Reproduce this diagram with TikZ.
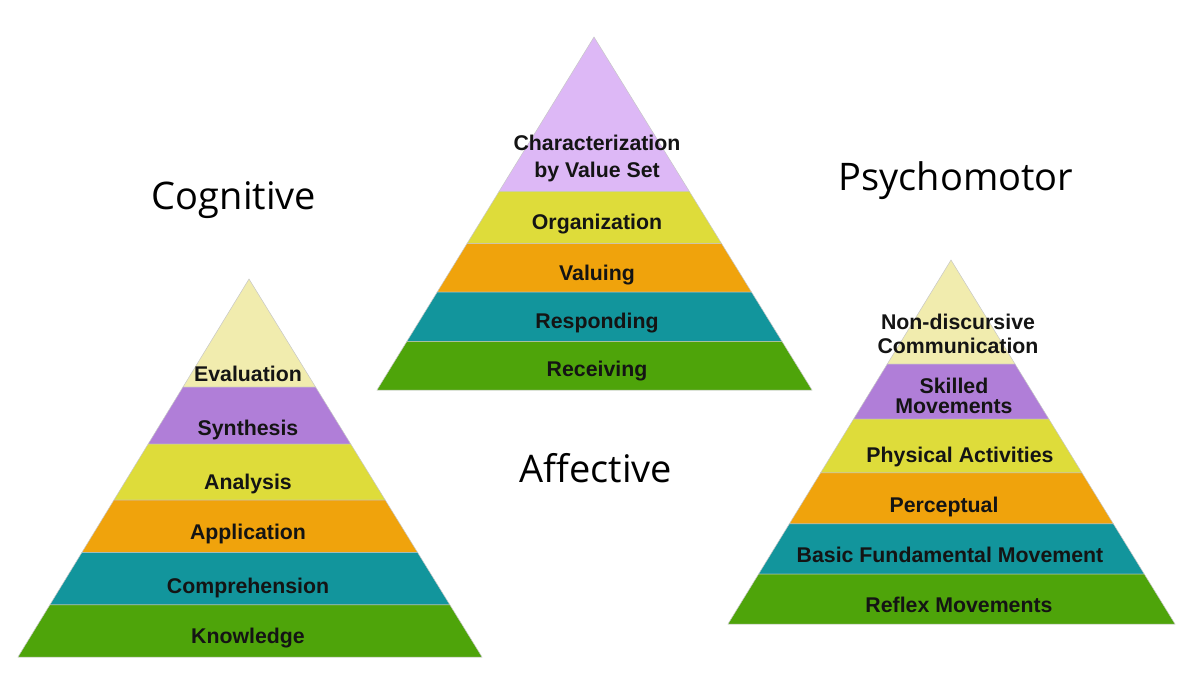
\documentclass[tikz,border=0pt]{standalone}
\usepackage{fontspec}
\setmainfont{Liberation Sans}
\newfontfamily\titlefont{Open Sans}
\usetikzlibrary{calc}

\definecolor{pyrcream}{HTML}{F1ECAE}
\definecolor{pyrviolet}{HTML}{B07ED8}
\definecolor{pyrlilac}{HTML}{DDB8F6}
\definecolor{pyrlemon}{HTML}{DEDC3A}
\definecolor{pyrorange}{HTML}{F0A30C}
\definecolor{pyrteal}{HTML}{12959C}
\definecolor{pyrgreen}{HTML}{4EA40A}

\begin{document}
\begin{tikzpicture}[x=1pt, y=-1pt,
    band/.style={draw=black!22, line width=0.5pt},
    lvl/.style={font=\bfseries\fontsize{21.3}{22}\selectfont, text=black!92, inner sep=0pt, align=center},
    ttl/.style={font=\titlefont\fontsize{38}{44}\selectfont, inner sep=0pt, anchor=base}]
    \useasboundingbox (0,0) rectangle (1200,675);
    \fill[white] (0,0) rectangle (1200,675);

    % Cognitive
    \coordinate (cA) at (249,279);
    \coordinate (cL) at (18,657);
    \coordinate (cR) at (482,657);
    \foreach \t/\b/\c in {0/0.286/pyrcream, 0.286/0.437/pyrviolet, 0.437/0.585/pyrlemon, 0.585/0.723/pyrorange, 0.723/0.862/pyrteal, 0.862/1/pyrgreen}
        \filldraw[band, fill=\c] ($(cA)!\t!(cL)$) -- ($(cA)!\b!(cL)$) -- ($(cA)!\b!(cR)$) -- ($(cA)!\t!(cR)$) -- cycle;
    \foreach \n/\y/\txt in {1/381/Evaluation, 2/435/Synthesis, 3/489/Analysis, 4/539/Application, 5/593/Comprehension, 6/643/Knowledge}
        \node[lvl, anchor=base] (c-\n) at (248,\y) {\txt};

    % Affective
    \coordinate (aA) at (594,37);
    \coordinate (aL) at (377,390);
    \coordinate (aR) at (812,390);
    \foreach \t/\b/\c in {0/0.437/pyrlilac, 0.437/0.585/pyrlemon, 0.585/0.723/pyrorange, 0.723/0.862/pyrteal, 0.862/1/pyrgreen}
        \filldraw[band, fill=\c] ($(aA)!\t!(aL)$) -- ($(aA)!\b!(aL)$) -- ($(aA)!\b!(aR)$) -- ($(aA)!\t!(aR)$) -- cycle;
    \node[lvl] (a-1) at (597,158) {Characterization\\[5pt]by Value Set};
    \foreach \n/\y/\txt in {2/229/Organization, 3/280/Valuing, 4/328/Responding, 5/376/Receiving}
        \node[lvl, anchor=base] (a-\n) at (597,\y) {\txt};

    % Psychomotor
    \coordinate (pA) at (951,260);
    \coordinate (pL) at (728,624);
    \coordinate (pR) at (1175,624);
    \foreach \t/\b/\c in {0/0.286/pyrcream, 0.286/0.437/pyrviolet, 0.437/0.585/pyrlemon, 0.585/0.725/pyrorange, 0.725/0.863/pyrteal, 0.863/1/pyrgreen}
        \filldraw[band, fill=\c] ($(pA)!\t!(pL)$) -- ($(pA)!\b!(pL)$) -- ($(pA)!\b!(pR)$) -- ($(pA)!\t!(pR)$) -- cycle;
    \node[lvl] (p-1) at (958,334) {Non-discursive\\[2pt]Communication};
    \node[lvl] (p-2) at (954,396) {Skilled\\[-2pt]Movements};
    \foreach \n/\x/\y/\txt in {3/960/462/Physical Activities, 4/944/512/Perceptual, 5/950/562/Basic Fundamental Movement, 6/959/612/Reflex Movements}
        \node[lvl, anchor=base] (p-\n) at (\x,\y) {\txt};

    % domain titles
    \node[ttl] (cog) at (234,209) {Cognitive};
    \node[ttl] (aff) at (596,482) {Affective};
    \node[ttl] (psy) at (956,190) {Psychomotor};
\end{tikzpicture}
\end{document}
